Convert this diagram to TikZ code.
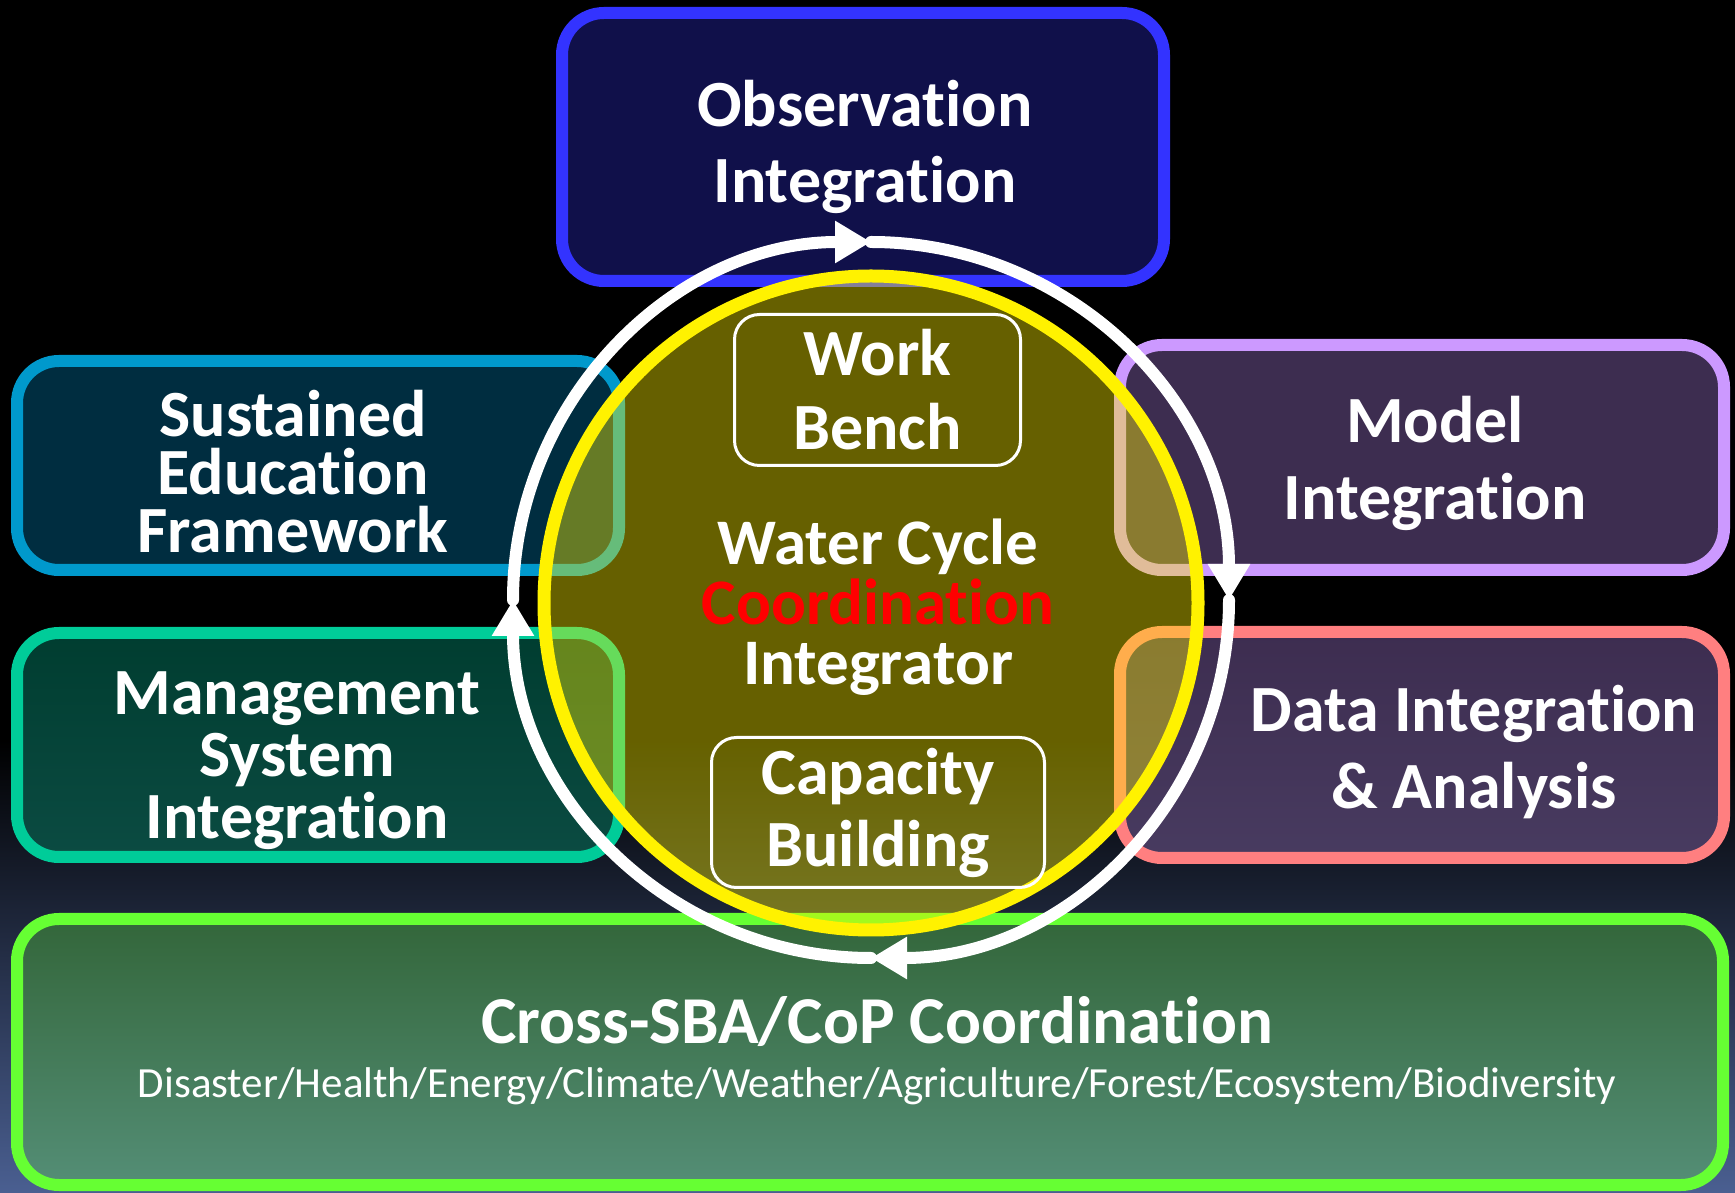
\documentclass[tikz,border=0pt]{standalone}
\usepackage{fontspec}
\setmainfont{Carlito}[Ligatures=NoCommon]
\usetikzlibrary{arrows.meta}

\definecolor{bgblue}{HTML}{4A5F91}
\definecolor{obsline}{HTML}{3333FF}
\definecolor{obsfill}{HTML}{10104A}
\definecolor{eduline}{HTML}{0099CC}
\definecolor{edufill}{HTML}{002D40}
\definecolor{mgmtline}{HTML}{00CC99}
\definecolor{mgmttop}{HTML}{003D30}
\definecolor{mgmtbot}{HTML}{0B4B42}
\definecolor{modelline}{HTML}{CC99FF}
\definecolor{modelfill}{HTML}{3D2D50}
\definecolor{dataline}{HTML}{FF7F80}
\definecolor{databot}{HTML}{483B60}
\definecolor{sbaline}{HTML}{66FF33}
\definecolor{sbatop}{HTML}{33663A}
\definecolor{sbabot}{HTML}{548E76}

\tikzset{
  panel/.style={rectangle,rounded corners=42pt,line width=12pt,inner sep=0pt},
  paneltext/.style={text=white,align=center,font=\bfseries\fontsize{66}{#1}\selectfont},
  ringarc/.style={->,draw=white,line width=12pt},
  workbox/.style={rectangle,draw=white,rounded corners=25pt,line width=3pt,text=white,align=center,font=\bfseries\fontsize{66}{#1}\selectfont}
}

\begin{document}
\begin{tikzpicture}[x=1pt,y=1pt,>={Triangle[length=36pt,width=40pt]},line cap=round,line join=round]
\useasboundingbox (0,0) rectangle (1735,1192);
\fill[black] (0,0) rectangle (1735,1192);
\shade[top color=black,bottom color=bgblue] (0,0) rectangle (1735,452);

\node[panel,draw=obsline,fill=obsfill,minimum width=602,minimum height=268] (obs) at (863,1045) {};
\node[panel,draw=eduline,fill=edufill,minimum width=602,minimum height=209] (edu) at (318,726.5) {};
\node[panel,draw=mgmtline,top color=mgmttop,bottom color=mgmtbot,minimum width=602,minimum height=224] (mgmt) at (318,447) {};
\node[panel,draw=modelline,fill=modelfill,minimum width=604,minimum height=225] (model) at (1422,734.5) {};
\node[panel,draw=dataline,top color=modelfill,bottom color=databot,minimum width=604,minimum height=226] (data) at (1422,447) {};
\node[panel,draw=sbaline,top color=sbatop,bottom color=sbabot,minimum width=1706,minimum height=266] (sba) at (870,140) {};

\node[paneltext=76] (obstxt) at ([xshift=2pt,yshift=0pt]obs) {Observation\\Integration};
\node[paneltext=58] (edutxt) at ([xshift=-25pt,yshift=-6pt]edu) {Sustained\\Education\\Framework};
\node[paneltext=62] (mgmttxt) at ([xshift=-21pt,yshift=-16pt]mgmt) {Management\\System\\Integration};
\node[paneltext=77] (modeltxt) at ([xshift=13pt,yshift=-6pt]model) {Model\\Integration};
\node[paneltext=77] (datatxt) at ([xshift=52pt,yshift=-7pt]data) {Data Integration\\\& Analysis};
\node[text=white,font=\bfseries\fontsize{67}{80}\selectfont] (sbatitle) at ([xshift=7pt,yshift=30pt]sba) {Cross-SBA/CoP Coordination};
\node[text=white,font=\fontsize{43}{50}\selectfont] (sbalist) at ([xshift=7pt,yshift=-34pt]sba) {Disaster/Health/Energy/Climate/Weather/Agriculture/Forest/Ecosystem/Biodiversity};

\node[circle,inner sep=0pt,minimum size=654,draw=yellow,line width=13pt,fill=yellow,fill opacity=0.4] (hub) at (871,589) {};

\coordinate (ringN) at (871,950);
\coordinate (ringE) at (1229,592);
\coordinate (ringS) at (871,234);
\coordinate (ringW) at (513,592);
\draw[ringarc] (ringW) arc[start angle=180,end angle=90,radius=358];
\draw[ringarc] (ringN) arc[start angle=90,end angle=0,radius=358];
\draw[ringarc] (ringE) arc[start angle=0,end angle=-90,radius=358];
\draw[ringarc] (ringS) arc[start angle=-90,end angle=-180,radius=358];

\node[workbox=74,minimum width=286,minimum height=151] (bench) at (877.5,802) {Work\\Bench};
\node[workbox=72,minimum width=333,minimum height=150] (capacity) at (878,379.5) {Capacity\\Building};
\node[text=white,align=center,font=\bfseries\fontsize{65}{60}\selectfont] (hubtxt) at (878,585) {Water Cycle\\\textcolor{red}{Coordination}\\Integrator};
\end{tikzpicture}
\end{document}
